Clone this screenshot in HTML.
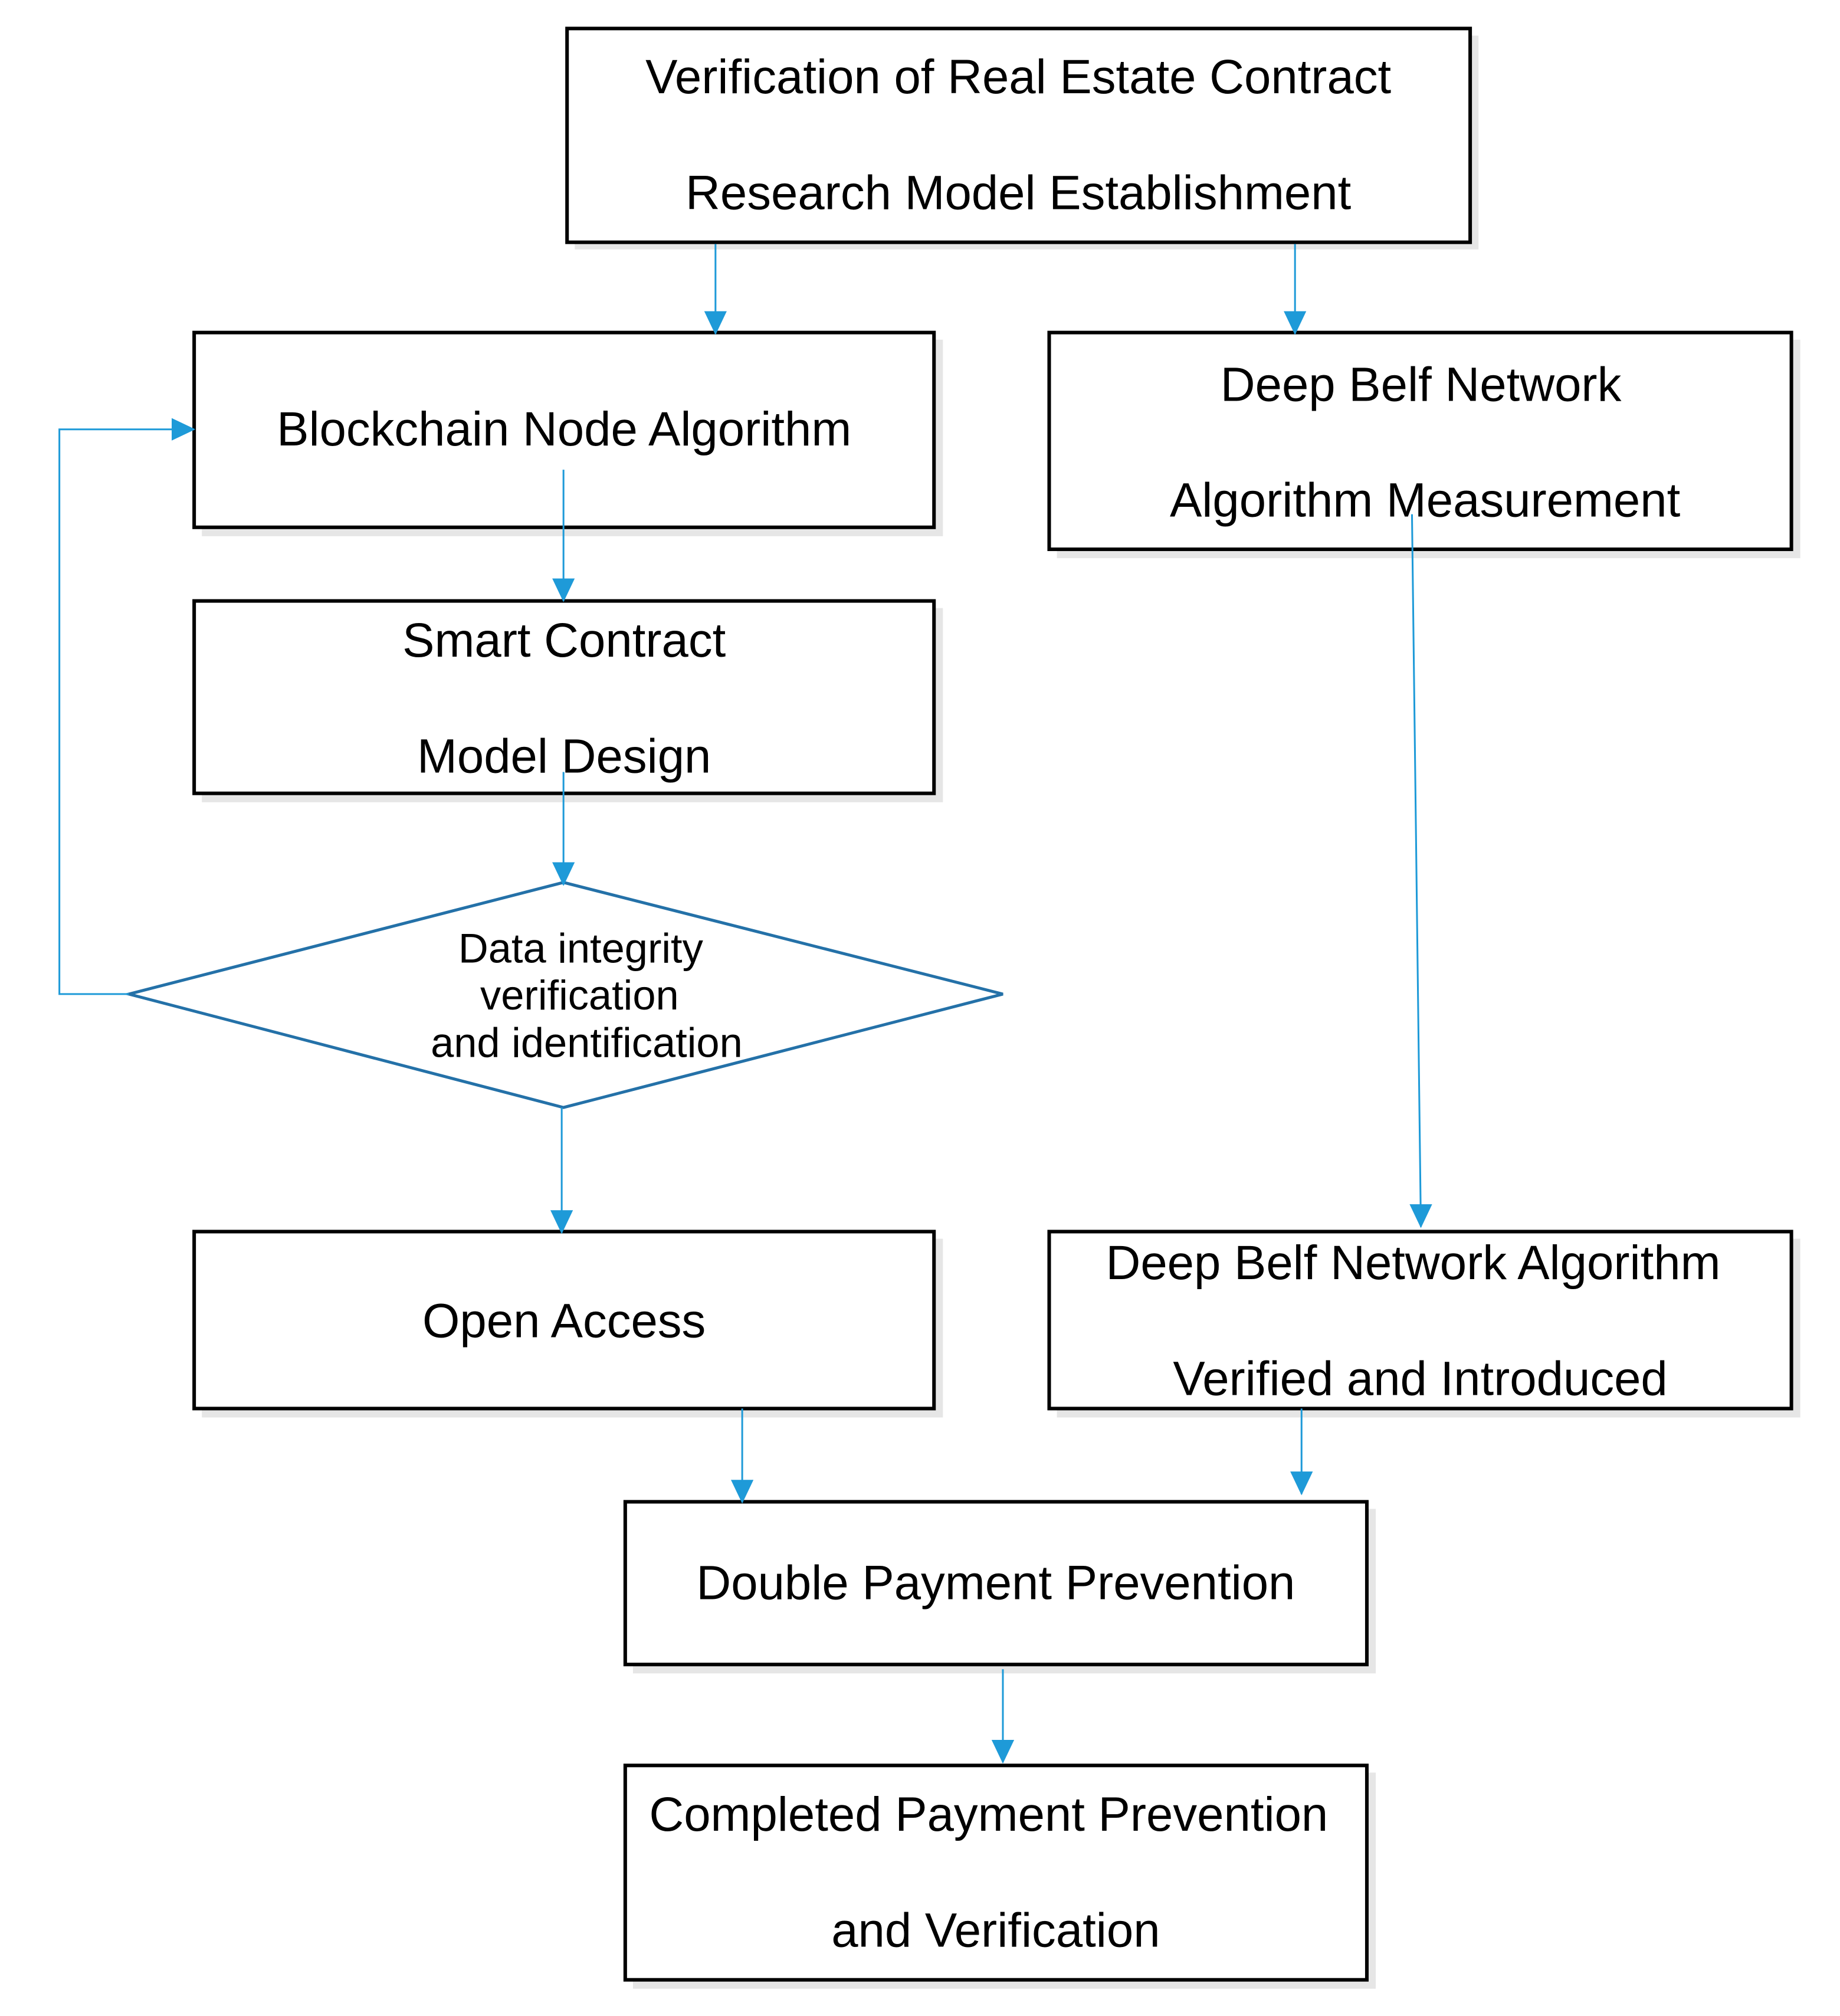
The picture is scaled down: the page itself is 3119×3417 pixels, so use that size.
<!DOCTYPE html>
<html><head><meta charset="utf-8"><style>
html,body{margin:0;padding:0;background:#fff;}
svg{display:block;}
text{font-family:"Liberation Sans",sans-serif;fill:#000;}
</style></head><body>
<svg width="3119" height="3417" viewBox="0 0 3119 3417" xmlns="http://www.w3.org/2000/svg">
<defs>
<marker id="ah" markerWidth="38" markerHeight="40" refX="19" refY="38" orient="0" markerUnits="userSpaceOnUse">
<path d="M0,0 L38,0 L19,40 Z" fill="#1e9ad8"/>
</marker>
<marker id="ar" markerWidth="40" markerHeight="38" refX="38" refY="19" orient="0" markerUnits="userSpaceOnUse">
<path d="M0,0 L40,19 L0,38 Z" fill="#1e9ad8"/>
</marker>
</defs>
<g transform="scale(1.0065)">
<g fill="#e6e6e6">
<rect x="968" y="60" width="1522" height="360"/>
<rect x="340" y="572" width="1248" height="331"/>
<rect x="1780" y="572" width="1252" height="368"/>
<rect x="340" y="1024" width="1248" height="327"/>
<rect x="340" y="2086" width="1248" height="301"/>
<rect x="1780" y="2086" width="1252" height="301"/>
<rect x="1066" y="2541" width="1251" height="277"/>
<rect x="1066" y="2985" width="1251" height="364"/>
</g>
<g fill="#fff" stroke="#000" stroke-width="6">
<rect x="955" y="48" width="1521" height="360"/>
<rect x="327" y="560" width="1246" height="328"/>
<rect x="1767" y="560" width="1250" height="365"/>
<rect x="327" y="1012" width="1246" height="324"/>
<rect x="327" y="2074" width="1246" height="298"/>
<rect x="1767" y="2074" width="1250" height="298"/>
<rect x="1053" y="2529" width="1249" height="274"/>
<rect x="1053" y="2973" width="1249" height="361"/>
</g>
<polygon points="217,1674 949,1486 1689,1674 949,1865" fill="#fff" stroke="#2471a8" stroke-width="5"/>
<g stroke="#1e9ad8" stroke-width="3" fill="none">
<line x1="1205" y1="411" x2="1205" y2="562" marker-end="url(#ah)"/>
<line x1="2181" y1="411" x2="2181" y2="562" marker-end="url(#ah)"/>
<line x1="949" y1="791" x2="949" y2="1012" marker-end="url(#ah)"/>
<line x1="949" y1="1300" x2="949" y2="1490" marker-end="url(#ah)"/>
<line x1="946" y1="1865" x2="946" y2="2076" marker-end="url(#ah)"/>
<line x1="2378" y1="866" x2="2393" y2="2066" marker-end="url(#ah)"/>
<line x1="1250" y1="2372" x2="1250" y2="2530" marker-end="url(#ah)"/>
<line x1="2192" y1="2372" x2="2192" y2="2516" marker-end="url(#ah)"/>
<line x1="1689" y1="2811" x2="1689" y2="2968" marker-end="url(#ah)"/>
<polyline points="217,1674 100,1674 100,723 327,723" marker-end="url(#ar)"/>
</g>
<g font-size="81" text-anchor="middle">
<text x="1715" y="157">Verification of Real Estate Contract</text>
<text x="1715" y="352">Research Model Establishment</text>
<text x="950" y="750">Blockchain Node Algorithm</text>
<text x="2393" y="675">Deep Belf Network</text>
<text x="2400" y="870">Algorithm Measurement</text>
<text x="950" y="1106">Smart Contract</text>
<text x="950" y="1301">Model Design</text>
<text x="950" y="2252">Open Access</text>
<text x="2380" y="2154">Deep Belf Network Algorithm</text>
<text x="2392" y="2349">Verified and Introduced</text>
<text x="1677" y="2693">Double Payment Prevention</text>
<text x="1665" y="3083">Completed Payment Prevention</text>
<text x="1677" y="3278">and Verification</text>
</g>
<g font-size="70" text-anchor="middle">
<text x="978" y="1621">Data integrity</text>
<text x="976" y="1700">verification</text>
<text x="988" y="1780">and identification</text>
</g>
</g>
</svg>
</body></html>
